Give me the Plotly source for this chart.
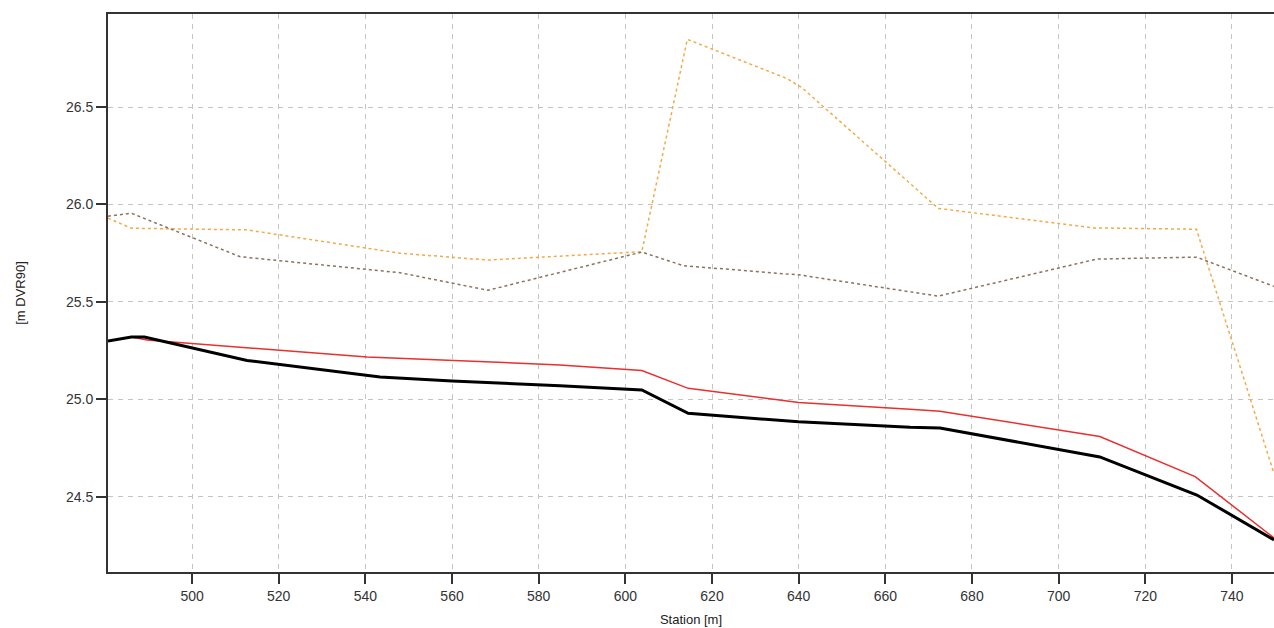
import plotly.graph_objects as go

# Station [m] and levels [m DVR90]
bed_x = [480.6, 486.0, 489.0, 512.7, 543.4, 560.0, 584.9, 603.8, 614.5, 640.0, 665.7, 672.6, 709.5, 731.9, 749.7]
bed_y = [25.30, 25.32, 25.32, 25.20, 25.115, 25.095, 25.07, 25.049, 24.929, 24.885, 24.857, 24.854, 24.705, 24.51, 24.28]

wl_x = [480.6, 486.0, 489.6, 540.4, 584.9, 603.8, 614.5, 640.0, 665.7, 672.6, 709.5, 731.5, 749.7]
wl_y = [25.30, 25.32, 25.305, 25.218, 25.177, 25.148, 25.057, 24.985, 24.95, 24.94, 24.81, 24.604, 24.29]

left_x = [480.6, 486.0, 511.1, 548.0, 568.3, 603.8, 613.4, 640.4, 672.2, 708.8, 731.8, 749.7]
left_y = [25.94, 25.955, 25.732, 25.65, 25.56, 25.756, 25.686, 25.638, 25.53, 25.72, 25.73, 25.58]

right_x = [480.6, 486.0, 512.6, 548.0, 568.3, 603.8, 614.3, 637.2, 640.7, 672.2, 708.0, 731.8, 749.7]
right_y = [25.93, 25.878, 25.87, 25.75, 25.715, 25.758, 26.847, 26.647, 26.60, 25.98, 25.88, 25.873, 24.62]

x_ticks = [500, 520, 540, 560, 580, 600, 620, 640, 660, 680, 700, 720, 740]
y_ticks = [24.5, 25.0, 25.5, 26.0, 26.5]

fig = go.Figure()
fig.add_trace(go.Scatter(x=right_x, y=right_y, mode="lines",
                         line=dict(color="#F4A947", width=1.5, dash="dot"), name="right bank"))
fig.add_trace(go.Scatter(x=left_x, y=left_y, mode="lines",
                         line=dict(color="#8A735C", width=1.5, dash="dot"), name="left bank"))
fig.add_trace(go.Scatter(x=wl_x, y=wl_y, mode="lines",
                         line=dict(color="#E8302E", width=1.5), name="water level"))
fig.add_trace(go.Scatter(x=bed_x, y=bed_y, mode="lines",
                         line=dict(color="#000000", width=3), name="bed"))

font = dict(family="Liberation Sans, Arial, sans-serif", size=14, color="#333333")
grid_common = dict(showgrid=True, gridcolor="#C4C4C4", griddash="5px,5px", gridwidth=1,
                   zeroline=False, showline=True, linecolor="#333333", linewidth=2,
                   ticks="outside", ticklen=10, tickwidth=2, tickcolor="#333333")
fig.update_layout(
    width=1274, height=628,
    margin=dict(l=108, r=0, t=14, b=56),
    paper_bgcolor="white", plot_bgcolor="white",
    showlegend=False,
    font=font,
    xaxis=dict(range=[480.6, 749.7], tickvals=x_ticks, ticktext=[str(v) for v in x_ticks],
               mirror=True,
               title=dict(text="Station [m]", font=dict(size=13, color="#222222"), standoff=12),
               **grid_common),
    yaxis=dict(range=[24.115, 26.977], tickvals=y_ticks, ticktext=[f"{v:.1f}" for v in y_ticks],
               mirror=False,
               title=dict(text="[m DVR90]", font=dict(size=13, color="#222222"), standoff=37),
               **grid_common),
)

fig.write_html("out.html", config={"displayModeBar": False},
               post_script="document.body.style.margin='0';document.body.style.overflow='hidden';")
